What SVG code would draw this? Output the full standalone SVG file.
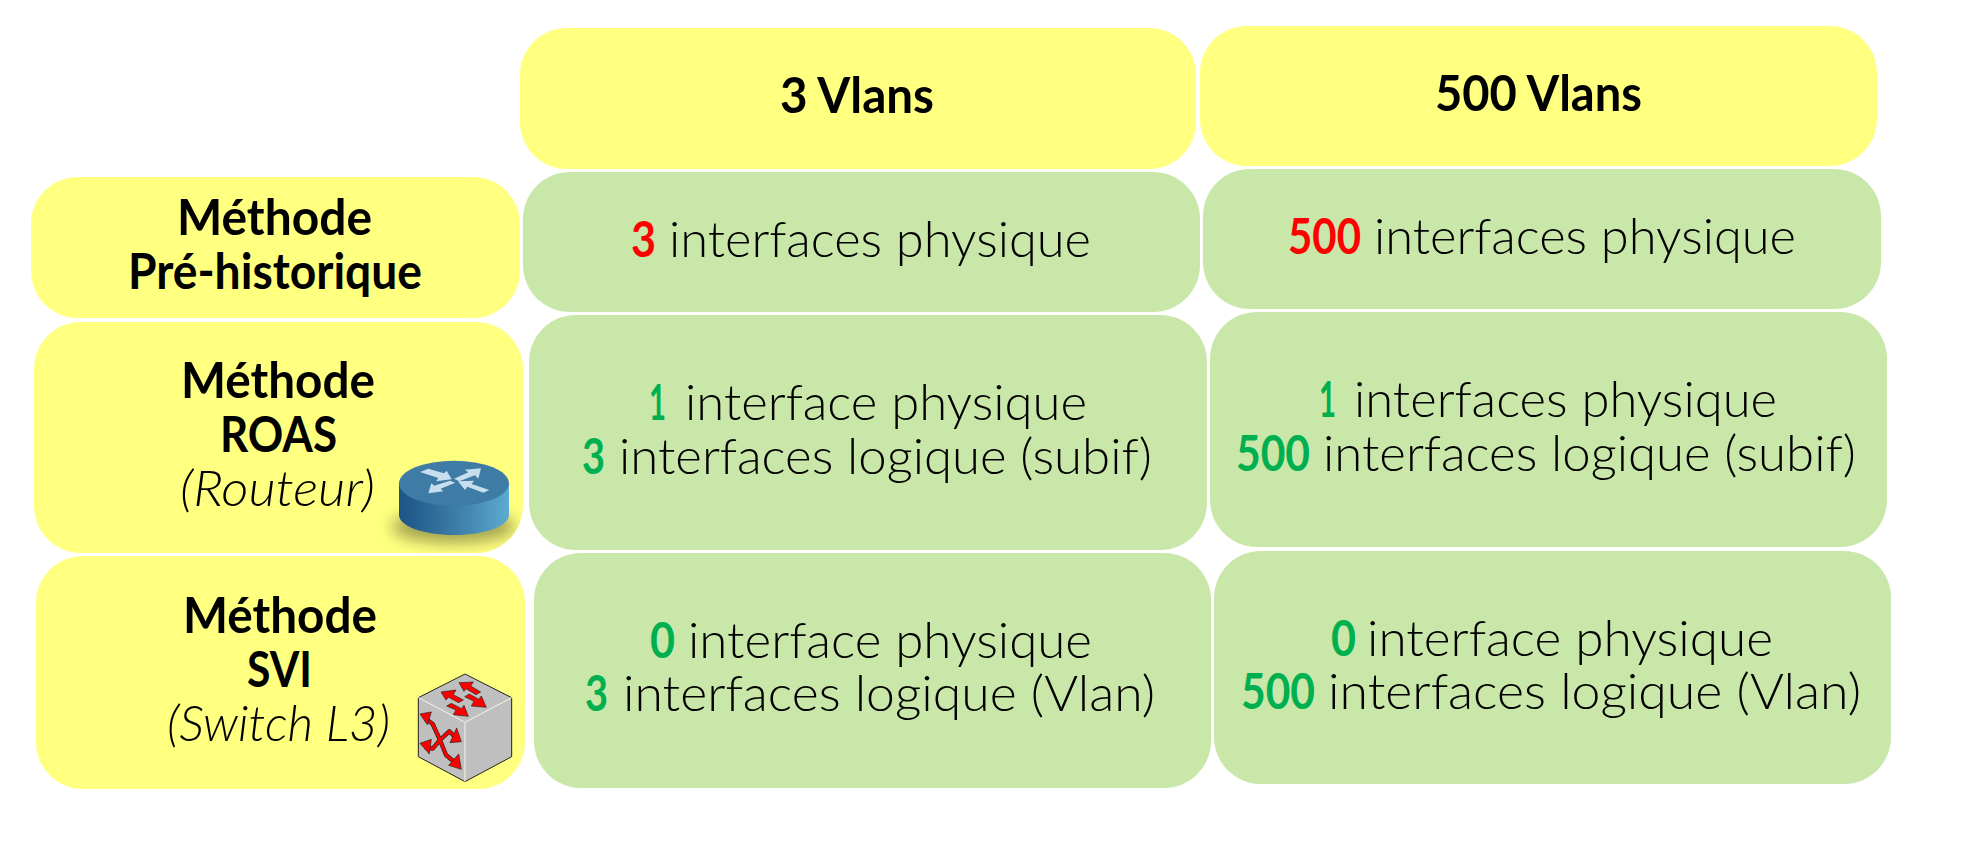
<svg xmlns="http://www.w3.org/2000/svg" width="1976" height="842" viewBox="0 0 1976 842">
<style>
text{font-family:"Lato","Liberation Sans",sans-serif;font-size:49px;fill:#000;transform:translateY(1.5px)}
.y{fill:#ffff80}.g{fill:#c9e7a8}
.b{font-weight:700}.l{font-weight:300}.i{font-weight:300;font-style:italic;font-size:50px}
.r{fill:#ff0000;font-weight:700}.n{fill:#00b050;font-weight:700}
.o{fill:none;stroke:#222;stroke-width:13;stroke-linejoin:round}
.u{fill:none;stroke:#f00;stroke-width:9;stroke-linejoin:round}
.h{fill:#f00;stroke:#222;stroke-width:2;stroke-linejoin:round}
.a{fill:#c6deed}
</style>
<defs>
<linearGradient id="side" x1="0" x2="1" y1="0" y2="0"><stop offset="0" stop-color="#1d5485"/><stop offset="0.5" stop-color="#3b7ba6"/><stop offset="1" stop-color="#5cabd2"/></linearGradient>
<filter id="blur" x="-30%" y="-60%" width="160%" height="220%"><feGaussianBlur stdDeviation="22"/></filter>
<clipPath id="roasclip"><rect x="34" y="322" width="489" height="231" rx="47"/></clipPath>
</defs>
<rect width="1976" height="842" fill="#fff"/>
<g id="head-3"><rect class="y" x="520" y="28" width="676" height="141" rx="47"/><text class="b" x="780" y="111" textLength="154" lengthAdjust="spacingAndGlyphs">3 Vlans</text></g>
<g id="head-500"><rect class="y" x="1200" y="26" width="677" height="140" rx="47"/><text class="b" x="1435" y="109" textLength="207" lengthAdjust="spacingAndGlyphs">500 Vlans</text></g>
<g id="method-pre"><rect class="y" x="31" y="177" width="489" height="141" rx="47"/>
<text class="b" x="177" y="233" textLength="195" lengthAdjust="spacingAndGlyphs">Méthode</text>
<text class="b" x="128" y="287" textLength="294" lengthAdjust="spacingAndGlyphs">Pré-historique</text></g>
<g id="cell-pre-3"><rect class="g" x="523" y="172" width="677" height="140" rx="47"/>
<text class="r" x="631" y="255" textLength="25" lengthAdjust="spacingAndGlyphs">3</text>
<text class="l" x="669" y="255" textLength="422" lengthAdjust="spacingAndGlyphs">interfaces physique</text></g>
<g id="cell-pre-500"><rect class="g" x="1203" y="169" width="678" height="140" rx="47"/>
<text class="r" x="1288" y="252" textLength="73" lengthAdjust="spacingAndGlyphs">500</text>
<text class="l" x="1374" y="252" textLength="422" lengthAdjust="spacingAndGlyphs">interfaces physique</text></g>
<g id="method-roas"><rect class="y" x="34" y="322" width="489" height="231" rx="47"/>
<text class="b" x="181" y="396" textLength="194" lengthAdjust="spacingAndGlyphs">Méthode</text>
<text class="b" x="220" y="450" textLength="117" lengthAdjust="spacingAndGlyphs">ROAS</text>
<text class="i" x="180" y="504" textLength="195" lengthAdjust="spacingAndGlyphs">(Routeur)</text>
<g clip-path="url(#roasclip)"><g transform="translate(370 440) scale(.33333)">
<ellipse cx="250" cy="260" rx="185" ry="48" fill="#55552a" opacity=".55" filter="url(#blur)"/>
<path d="M87 130V225C87 258 160 285 252 285S417 258 417 225V130Z" fill="url(#side)"/>
<ellipse cx="252" cy="130" rx="165" ry="68" fill="#3e7ca5"/>
<path class="a" d="M150 96 175 86 222 100 230 92 245 118 198 124 205 114Z"/>
<path class="a" d="M333 85 325 116 315 106 268 124 252 116 295 97 284 89Z"/>
<path class="a" d="M175 160 184 130 193 137 240 122 256 128 212 146 220 154Z"/>
<path class="a" d="M264 124 312 122 305 132 358 150 340 158 292 140 285 150Z"/>
</g></g></g>
<g id="cell-roas-3"><rect class="g" x="529" y="315" width="678" height="235" rx="47"/>
<text class="n" x="649" y="418" textLength="17" lengthAdjust="spacingAndGlyphs">1</text>
<text class="l" x="685" y="418" textLength="402" lengthAdjust="spacingAndGlyphs">interface physique</text>
<text class="n" x="582" y="472" textLength="23" lengthAdjust="spacingAndGlyphs">3</text>
<text class="l" x="619" y="472" textLength="533" lengthAdjust="spacingAndGlyphs">interfaces logique (subif)</text></g>
<g id="cell-roas-500"><rect class="g" x="1210" y="312" width="677" height="235" rx="47"/>
<text class="n" x="1319" y="415" textLength="17" lengthAdjust="spacingAndGlyphs">1</text>
<text class="l" x="1354" y="415" textLength="423" lengthAdjust="spacingAndGlyphs">interfaces physique</text>
<text class="n" x="1236" y="469" textLength="74" lengthAdjust="spacingAndGlyphs">500</text>
<text class="l" x="1323" y="469" textLength="533" lengthAdjust="spacingAndGlyphs">interfaces logique (subif)</text></g>
<g id="method-svi"><rect class="y" x="36" y="556" width="489" height="233" rx="47"/>
<text class="b" x="183" y="631" textLength="194" lengthAdjust="spacingAndGlyphs">Méthode</text>
<text class="b" x="247" y="685" textLength="65" lengthAdjust="spacingAndGlyphs">SVI</text>
<text class="i" x="167" y="739" textLength="223" lengthAdjust="spacingAndGlyphs">(Switch L3)</text>
<g transform="translate(390 660) scale(.33333)">
<path d="M225 42 365 113V290L225 365 85 290V113Z" fill="#bfbfbf" stroke="#222" stroke-width="3" stroke-linejoin="round"/>
<path d="M85 113 225 187 365 113M225 187V365" fill="none" stroke="#f4f4e8" stroke-width="3"/>
<path class="h" d="M207 68 250 66 242 78 272 96 258 104 228 86 222 94Z"/>
<path class="h" d="M153 96 198 90 190 104 220 120 206 128 176 112 168 120Z"/>
<path class="h" d="M289 142 244 138 252 124 224 110 238 102 266 118 274 108Z"/>
<path class="h" d="M235 169 190 164 198 150 170 138 184 130 214 146 222 136Z"/>
<path class="o" d="M105 175 128 192 150 240 168 285 200 312M105 262 128 266 150 240 178 214 200 236"/>
<path class="u" d="M105 175 128 192 150 240 168 285 200 312M105 262 128 266 150 240 178 214 200 236"/>
<path class="h" d="M90 162 124 156 112 194Z"/><path class="h" d="M90 250 124 238 118 282Z"/><path class="h" d="M214 328 176 316 206 282Z"/><path class="h" d="M214 245 180 248 200 204Z"/>
</g></g>
<g id="cell-svi-3"><rect class="g" x="534" y="553" width="677" height="235" rx="47"/>
<text class="n" x="650" y="656" textLength="25" lengthAdjust="spacingAndGlyphs">0</text>
<text class="l" x="688" y="656" textLength="404" lengthAdjust="spacingAndGlyphs">interface physique</text>
<text class="n" x="585" y="709" textLength="23" lengthAdjust="spacingAndGlyphs">3</text>
<text class="l" x="623" y="709" textLength="532" lengthAdjust="spacingAndGlyphs">interfaces logique (Vlan)</text></g>
<g id="cell-svi-500"><rect class="g" x="1214" y="551" width="677" height="233" rx="47"/>
<text class="n" x="1331" y="654" textLength="25" lengthAdjust="spacingAndGlyphs">0</text>
<text class="l" x="1367" y="654" textLength="406" lengthAdjust="spacingAndGlyphs">interface physique</text>
<text class="n" x="1241" y="707" textLength="74" lengthAdjust="spacingAndGlyphs">500</text>
<text class="l" x="1328" y="707" textLength="533" lengthAdjust="spacingAndGlyphs">interfaces logique (Vlan)</text></g>
</svg>
